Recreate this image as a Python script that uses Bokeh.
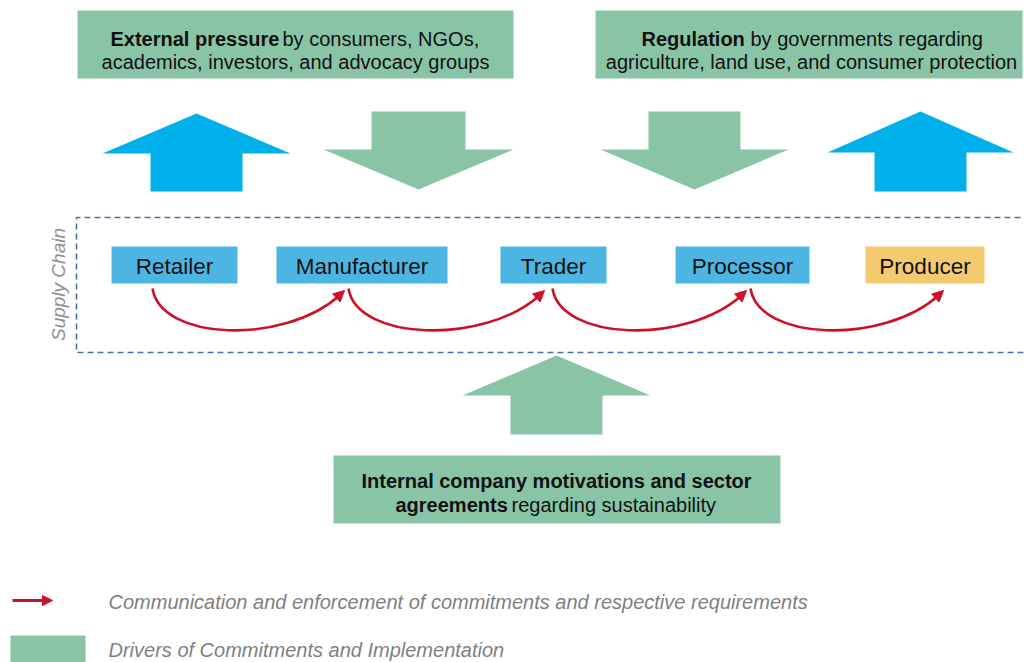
from bokeh.plotting import figure
from bokeh.models import Range1d, Arrow, NormalHead
from bokeh.embed import file_html
from bokeh.resources import INLINE
from bokeh.core.properties import value

# ---- content ----
chain_labels = ["Retailer", "Manufacturer", "Trader", "Processor", "Producer"]
chain_kind = ["actor", "actor", "actor", "actor", "origin"]
top_left_bold = "External pressure"
top_left_rest = "by consumers, NGOs,"
top_left_line2 = "academics, investors, and advocacy groups"
top_right_bold = "Regulation"
top_right_rest = "by governments regarding"
top_right_line2 = "agriculture, land use, and consumer protection"
bottom_line1 = "Internal company motivations and sector"
bottom_line2_bold = "agreements"
bottom_line2_rest = "regarding sustainability"
side_label = "Supply Chain"
legend_labels = ["Communication and enforcement of commitments and respective requirements",
                 "Drivers of Commitments and Implementation"]

# ---- layout (pixel-like coordinates, y downward) ----
box_x0 = [111, 276, 500, 675, 865]
box_x1 = [237, 447, 606, 809, 984]
box_y0, box_y1 = 246, 283

GREEN = "#89c4a7"
BLUE_ARROW = "#00b0ea"
BLUE_BOX = "#4db5e1"
YELLOW = "#f3ca6f"
RED = "#cc1126"
DASH = "#4a6fa8"
FONT = "Liberation Sans"
FS = "20px"

p = figure(width=1024, height=662, x_range=Range1d(0, 1024), y_range=Range1d(662, 0),
           output_backend="svg", toolbar_location=None, min_border=0)
p.axis.visible = False
p.grid.visible = False
p.outline_line_color = None
p.background_fill_color = "white"
p.border_fill_color = "white"

# top boxes
p.quad(left=[77, 595], right=[513, 1022], top=[10, 10], bottom=[78, 78],
       fill_color=GREEN, line_color=None)
# bottom box
p.quad(left=[333], right=[780], top=[455], bottom=[523], fill_color=GREEN, line_color=None)


def block_arrow(tip_x, tip_y, head_y, head_half, shaft_half, shaft_end):
    xs = [tip_x, tip_x + head_half, tip_x + shaft_half, tip_x + shaft_half,
          tip_x - shaft_half, tip_x - shaft_half, tip_x - head_half]
    ys = [tip_y, head_y, head_y, shaft_end, shaft_end, head_y, head_y]
    return xs, ys


arrows = [
    (196, 113, 153, 94, 46, 191, BLUE_ARROW),
    (418, 189, 149, 95, 47, 111, GREEN),
    (694, 189, 149, 94, 46, 111, GREEN),
    (920, 111, 152, 93, 46, 191, BLUE_ARROW),
    (556, 355, 395, 94, 46, 434, GREEN),
]
axs, ays, acs = [], [], []
for tx, ty, hy, hh, sh, se, c in arrows:
    xs, ys = block_arrow(tx, ty, hy, hh, sh, se)
    axs.append(xs)
    ays.append(ys)
    acs.append(c)
p.patches(xs=axs, ys=ays, fill_color=acs, line_color=None)

# dashed supply chain frame
p.line(x=[1040, 76, 76, 1040], y=[217, 217, 352, 352], line_color=DASH,
       line_width=1.6, line_dash="6 4")
p.text(x=[58], y=[284], text=[side_label], angle=1.5708, text_align="center",
       text_baseline="middle", text_font=value(FONT), text_font_style="italic",
       text_font_size="19px", text_color="#8f8f8f")

# chain boxes
colors = [BLUE_BOX if k == "actor" else YELLOW for k in chain_kind]
p.quad(left=box_x0, right=box_x1, top=[box_y0] * 5, bottom=[box_y1] * 5,
       fill_color=colors, line_color=None)
p.text(x=[(a + b) / 2 for a, b in zip(box_x0, box_x1)], y=[266] * 5, text=chain_labels,
       text_align="center", text_baseline="middle", text_font=value(FONT),
       text_font_size="22.5px", text_color="#111111")

# red curved arrows
starts = [152, 348, 552, 750]
ends = [343, 543, 745, 942]
bx0, by0, bx1, by1, cx0, cy0, cx1, cy1 = [], [], [], [], [], [], [], []
for s, e in zip(starts, ends):
    bx0.append(s); by0.append(288)
    bx1.append(e - 4); by1.append(295)
    cx0.append(s + 8); cy0.append(340)
    cx1.append(e - 60); cy1.append(345)
p.bezier(x0=bx0, y0=by0, x1=bx1, y1=by1, cx0=cx0, cy0=cy0, cx1=cx1, cy1=cy1,
         line_color=RED, line_width=2.6)
for s, e in zip(starts, ends):
    p.add_layout(Arrow(x_start=e - 12, y_start=302, x_end=e + 1, y_end=290,
                       line_alpha=0,
                       end=NormalHead(size=11, fill_color=RED, line_color=RED)))


def txt(x, y, t, align="left", bold=False):
    p.text(x=[x], y=[y], text=[t], text_align=align, text_baseline="middle",
           text_font=value(FONT), text_font_style="bold" if bold else "normal",
           text_font_size=FS, text_color="#111111")


# top-left text
txt(110, 38, top_left_bold, bold=True)
txt(282, 38, top_left_rest)
txt(295, 61, top_left_line2, align="center")
# top-right text
txt(641, 38, top_right_bold, bold=True)
txt(750, 38, top_right_rest)
txt(811, 61, top_right_line2, align="center")
# bottom text
txt(556, 480, bottom_line1, align="center", bold=True)
txt(395, 504, bottom_line2_bold, bold=True)
txt(511, 504, bottom_line2_rest)

# legend
p.add_layout(Arrow(x_start=12, y_start=600, x_end=52, y_end=600, line_color=RED, line_width=3,
                   end=NormalHead(size=10, fill_color=RED, line_color=RED)))
p.quad(left=[10], right=[85], top=[635], bottom=[670], fill_color=GREEN, line_color=None)
p.text(x=[108, 108], y=[601, 649], text=legend_labels, text_align="left", text_baseline="middle",
       text_font=value(FONT), text_font_style="italic", text_font_size="20px", text_color="#7f7f7f")

open("out.html", "w").write(file_html(p, INLINE))
